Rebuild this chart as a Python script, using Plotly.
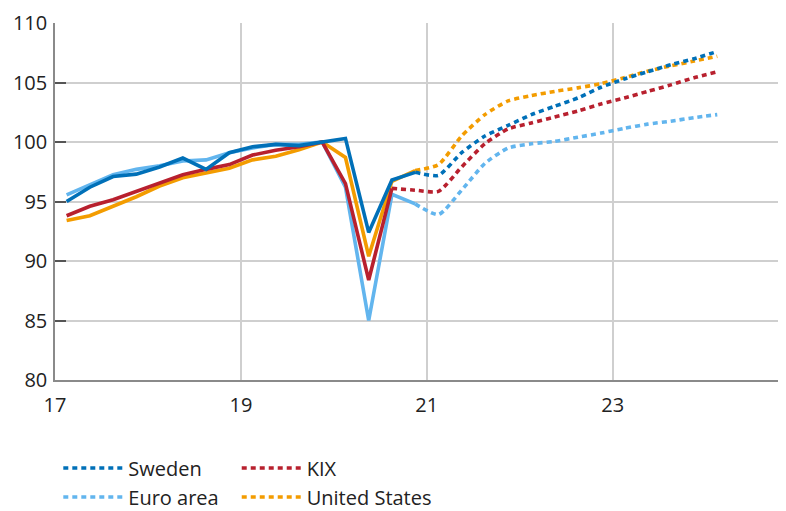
import plotly.graph_objects as go

# Quarterly periods
hist_q = ["2017Q1","2017Q2","2017Q3","2017Q4","2018Q1","2018Q2","2018Q3","2018Q4",
          "2019Q1","2019Q2","2019Q3","2019Q4","2020Q1","2020Q2","2020Q3","2020Q4"]
fc_q = ["2020Q3","2020Q4","2021Q1","2021Q2","2021Q3","2021Q4","2022Q1","2022Q2","2022Q3","2022Q4",
        "2023Q1","2023Q2","2023Q3","2023Q4","2024Q1"]

sweden_hist = [95.0, 96.2, 97.1, 97.3, 97.9, 98.65, 97.7, 99.1, 99.6, 99.8, 99.7, 100.0, 100.3, 92.4, 96.8, 97.45]
sweden_fc = [97.45, 97.2, 99.1, 100.5, 101.4, 102.3, 103.0, 103.7, 104.6, 105.3, 105.9, 106.5, 107.0, 107.6]

euro_hist = [95.55, 96.4, 97.25, 97.7, 98.0, 98.4, 98.5, 99.1, 99.5, 99.8, 99.8, 100.0, 96.2, 85.0, 95.6, 94.8]
euro_fc = [94.8, 93.9, 95.95, 98.2, 99.5, 99.85, 100.05, 100.4, 100.75, 101.15, 101.5, 101.75, 102.05, 102.3]

kix_hist = [93.8, 94.6, 95.15, 95.85, 96.55, 97.25, 97.7, 98.1, 98.9, 99.3, 99.6, 100.0, 96.5, 88.4, 96.1]
kix_fc = [96.1, 95.95, 95.85, 97.9, 99.85, 101.1, 101.6, 102.1, 102.6, 103.2, 103.7, 104.25, 104.8, 105.4, 105.9]

us_hist = [93.4, 93.8, 94.6, 95.4, 96.3, 97.0, 97.4, 97.8, 98.5, 98.8, 99.35, 100.0, 98.7, 90.4, 96.7, 97.6]
us_fc = [97.6, 98.1, 100.5, 102.3, 103.45, 103.9, 104.25, 104.55, 104.9, 105.4, 105.95, 106.4, 106.8, 107.2]

x_ticks = [17, 19, 21, 23]
x_tick_labels = ["17", "19", "21", "23"]
y_ticks = [80, 85, 90, 95, 100, 105, 110]


def qpos(labels):
    out = []
    for s in labels:
        yr = int(s[:4]) - 2000
        q = int(s[-1])
        out.append(yr + (q - 0.5) / 4)
    return out


series = [
    ("Euro area", "#62B5EE", euro_hist, hist_q[:len(euro_hist)], euro_fc, fc_q[1:], "legend3"),
    ("United States", "#F39C00", us_hist, hist_q[:len(us_hist)], us_fc, fc_q[1:], "legend4"),
    ("KIX", "#B8202E", kix_hist, hist_q[:len(kix_hist)], kix_fc, fc_q, "legend2"),
    ("Sweden", "#0070B8", sweden_hist, hist_q[:len(sweden_hist)], sweden_fc, fc_q[1:], "legend"),
]

fig = go.Figure()
LW = 3.6
for name, col, h, hq, f, fq, lg in series:
    fig.add_trace(go.Scatter(x=qpos(hq), y=h, mode="lines", showlegend=False,
                             line=dict(color=col, width=LW), hoverinfo="skip"))
for name, col, h, hq, f, fq, lg in series:
    fig.add_trace(go.Scatter(x=qpos(fq), y=f, mode="lines", name=name, legend=lg,
                             line=dict(color=col, width=LW, dash="5px,4px", shape="spline", smoothing=0.6)))

font = dict(family="'Open Sans', sans-serif", size=20, color="#222222")
leg_common = dict(font=font, bgcolor="rgba(0,0,0,0)", itemwidth=60, xanchor="left", yanchor="middle",
                  xref="container", yref="container")

fig.update_layout(
    width=786, height=511,
    margin=dict(l=47, r=14, t=15, b=139, autoexpand=False),
    paper_bgcolor="white", plot_bgcolor="white",
    font=font,
    legend=dict(x=0.064, y=1 - 460 / 511, **leg_common),
    legend2=dict(x=0.291, y=1 - 460 / 511, **leg_common),
    legend3=dict(x=0.064, y=1 - 489 / 511, **leg_common),
    legend4=dict(x=0.291, y=1 - 489 / 511, **leg_common),
    xaxis=dict(range=[17, 24.8], tickvals=x_ticks, ticktext=x_tick_labels,
               showgrid=True, gridcolor="#CFCFCF", gridwidth=1.5,
               showline=True, linecolor="#8A8A8A", linewidth=1.5,
               ticks="", zeroline=False, tickfont=font, ticklabelstandoff=6),
    yaxis=dict(range=[80, 110], tickvals=y_ticks,
               showgrid=True, gridcolor="#CFCFCF", gridwidth=1.5,
               showline=True, linecolor="#8A8A8A", linewidth=1.5,
               ticks="inside", ticklen=11, tickcolor="#555555", tickwidth=1.5,
               zeroline=False, tickfont=font, ticklabelstandoff=2),
    hovermode=False,
)

fig.write_html("out.html")
